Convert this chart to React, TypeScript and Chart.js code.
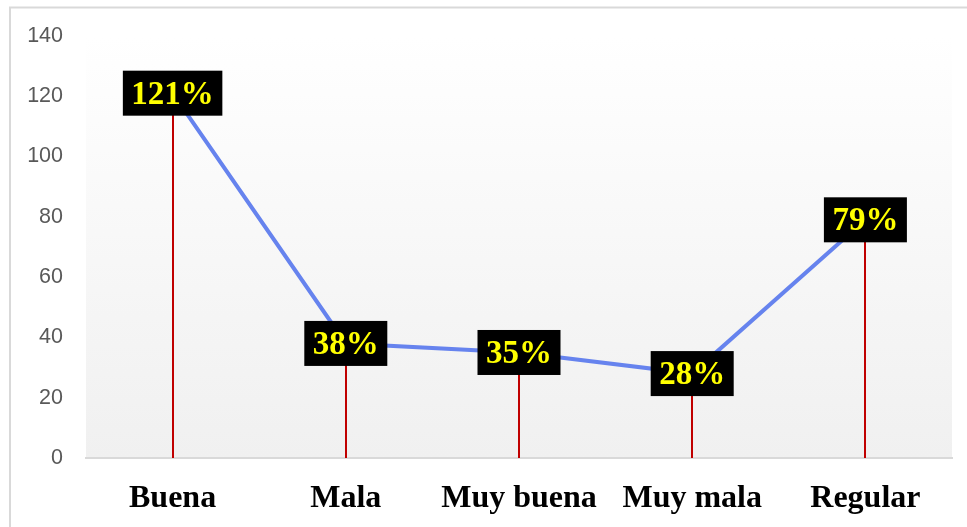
import React, { useEffect, useRef } from "react";
import { Chart, registerables } from "chart.js";

Chart.register(...registerables);

const categories = ["Buena", "Mala", "Muy buena", "Muy mala", "Regular"];
const values = [121, 38, 35, 28, 79];
const valueLabels = ["121%", "38%", "35%", "28%", "79%"];
const yTicks = [0, 20, 40, 60, 80, 100, 120, 140];

const bgPlugin = {
  id: "bgPlugin",
  beforeDraw(chart: any) {
    const { ctx, chartArea } = chart;
    ctx.save();
    ctx.fillStyle = "#ffffff";
    ctx.fillRect(0, 0, chart.width, chart.height);
    ctx.strokeStyle = "#d9d9d9";
    ctx.lineWidth = 2;
    ctx.beginPath();
    ctx.moveTo(10, chart.height + 5);
    ctx.lineTo(10, 7.5);
    ctx.lineTo(chart.width + 5, 7.5);
    ctx.stroke();
    const g = ctx.createLinearGradient(0, chartArea.top, 0, chartArea.bottom);
    g.addColorStop(0, "#ffffff");
    g.addColorStop(1, "#f0f0f0");
    ctx.fillStyle = g;
    ctx.fillRect(chartArea.left, chartArea.top, chartArea.right - chartArea.left, chartArea.bottom - chartArea.top);
    ctx.restore();
  },
  beforeDatasetsDraw(chart: any) {
    const { ctx } = chart;
    const meta = chart.getDatasetMeta(0);
    const y0 = chart.scales.y.getPixelForValue(0);
    ctx.save();
    ctx.strokeStyle = "#c00000";
    ctx.lineWidth = 2;
    meta.data.forEach((pt: any) => {
      ctx.beginPath();
      ctx.moveTo(Math.round(pt.x), pt.y);
      ctx.lineTo(Math.round(pt.x), y0);
      ctx.stroke();
    });
    ctx.restore();
  },
  afterDatasetsDraw(chart: any) {
    const { ctx } = chart;
    const meta = chart.getDatasetMeta(0);
    ctx.save();
    ctx.font = "bold 33px 'Liberation Serif', 'Times New Roman', serif";
    ctx.textAlign = "center";
    ctx.textBaseline = "middle";
    meta.data.forEach((pt: any, i: number) => {
      const txt = valueLabels[i];
      const w = ctx.measureText(txt).width + 17;
      const h = 45;
      ctx.fillStyle = "#000000";
      ctx.fillRect(pt.x - w / 2, pt.y - h / 2, w, h);
      ctx.fillStyle = "#ffff00";
      ctx.fillText(txt, pt.x, pt.y + 2);
    });
    ctx.restore();
  },
};

export default function App() {
  const ref = useRef<HTMLCanvasElement>(null);
  useEffect(() => {
    if (!ref.current) return;
    const chart = new Chart(ref.current, {
      type: "line",
      data: {
        labels: categories,
        datasets: [
          {
            data: values,
            borderColor: "#6683ee",
            borderWidth: 4,
            pointRadius: 0,
            tension: 0,
            fill: false,
          },
        ],
      },
      options: {
        animation: false,
        responsive: false,
        maintainAspectRatio: false,
        layout: { padding: { left: 0, right: 15, top: 35, bottom: 0 } },
        plugins: { legend: { display: false }, tooltip: { enabled: false } },
        scales: {
          x: {
            offset: true,
            grid: { display: false, drawTicks: false },
            border: { display: true, color: "#d9d9d9", width: 2 },
            ticks: {
              color: "#000000",
              padding: 22,
              maxRotation: 0,
              autoSkip: false,
              font: { family: "'Liberation Serif', 'Times New Roman', serif", size: 32, weight: "bold" },
            },
            afterFit(scale: any) {
              scale.height = 69;
            },
          },
          y: {
            min: 0,
            max: 140,
            afterBuildTicks(scale: any) {
              scale.ticks = yTicks.map((v) => ({ value: v }));
            },
            grid: { display: false, drawTicks: false },
            border: { display: false },
            ticks: {
              color: "#595959",
              padding: 23,
              font: { family: "'Liberation Sans', Arial, sans-serif", size: 21.5 },
            },
            afterFit(scale: any) {
              scale.width = 86;
            },
          },
        },
      },
      plugins: [bgPlugin],
    } as any);
    return () => chart.destroy();
  }, []);
  return (
    <div style={{ position: "fixed", left: 0, top: 0, width: 967, height: 527 }}>
      <canvas ref={ref} width={967} height={527} style={{ width: 967, height: 527, display: "block" }} />
    </div>
  );
}
